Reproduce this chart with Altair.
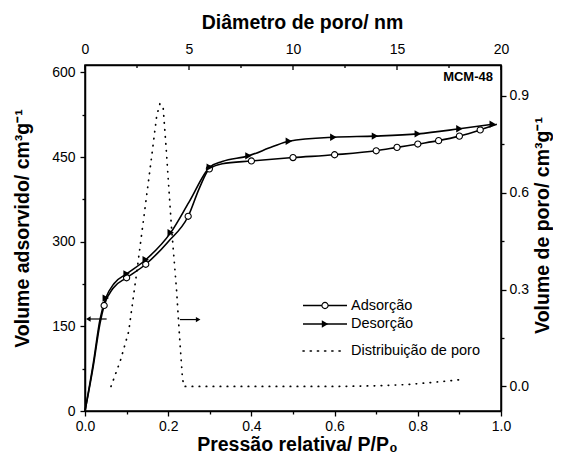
import altair as alt
import pandas as pd

# ---- data ----
# Adsorption branch (P/P0, volume adsorbed cm3/g)
ads_x = [0.0, 0.02, 0.036, 0.046, 0.068, 0.10, 0.146, 0.20, 0.248, 0.275, 0.299, 0.33, 0.40, 0.50, 0.60, 0.70, 0.75, 0.80, 0.85, 0.90, 0.95, 0.99]
ads_y = [0, 80, 155, 187, 218, 236, 260, 300, 345, 395, 429, 438, 443, 449, 454, 461, 467, 473, 479, 487, 498, 508]
ads_mark = [0, 0, 0, 1, 0, 1, 1, 0, 1, 0, 1, 0, 1, 1, 1, 1, 1, 1, 1, 1, 1, 0]

# Desorption branch
des_x = [0.0, 0.02, 0.036, 0.05, 0.07, 0.10, 0.146, 0.206, 0.25, 0.30, 0.33, 0.393, 0.45, 0.49, 0.597, 0.697, 0.80, 0.90, 0.98]
des_y = [0, 85, 162, 200, 226, 243, 268, 316, 370, 432, 442, 452, 468, 478, 485, 487, 491, 500, 508]
des_mark = [0, 0, 0, 1, 0, 1, 1, 1, 0, 1, 0, 1, 0, 1, 1, 1, 1, 1, 1]

# Pore size distribution (diameter nm, pore volume cm3/g)
pd_x = [1.25, 1.7, 2.1, 2.5, 2.9, 3.2, 3.45, 3.6, 3.75, 3.9, 4.15, 4.4, 4.55, 4.68, 4.75, 6, 8, 10, 12, 14, 15.5, 16.8, 18.2]
pd_y = [0.0, 0.08, 0.17, 0.36, 0.56, 0.71, 0.84, 0.875, 0.87, 0.74, 0.50, 0.30, 0.15, 0.03, 0.0, 0.0, 0.0, 0.0, 0.0, 0.002, 0.006, 0.013, 0.022]

# axis tick values
left_ticks = [0, 75, 150, 225, 300, 375, 450, 525, 600]
bottom_ticks = [0.0, 0.1, 0.2, 0.3, 0.4, 0.5, 0.6, 0.7, 0.8, 0.9, 1.0]
right_ticks = [0.0, 0.15, 0.3, 0.45, 0.6, 0.75, 0.9]
top_major = [0, 5, 10, 15, 20]
top_minor = [2.5, 7.5, 12.5, 17.5]

# axis-direction arrows (P/P0, volume)
arrow_left = {"x": [0.008, 0.052], "y": [163, 163]}
arrow_right = {"x": [0.228, 0.272], "y": [162, 162]}

legend_labels = ["Adsorção", "Desorção", "Distribuição de poro"]
sample_label = "MCM-48"

FONT = "Liberation Sans"
W, H = 416, 346

ads = pd.DataFrame({"x": ads_x, "y": ads_y, "m": ads_mark})
des = pd.DataFrame({"x": des_x, "y": des_y, "m": des_mark})
pdd = pd.DataFrame({"d": pd_x, "v": pd_y})

common_axis = dict(labelFont=FONT, labelFontSize=14, labelColor="black", labelFlush=False,
                   labelOverlap=False,
                   titleFont=FONT, titleFontSize=19.5, titleFontWeight="bold", titleColor="black",
                   domainColor="black", domainWidth=1.5, tickColor="black", tickWidth=1.3,
                   grid=False)

X = alt.X("x:Q", scale=alt.Scale(domain=[0, 1], nice=False, zero=False),
          axis=alt.Axis(orient="bottom", values=bottom_ticks,
                        labelExpr="round(datum.value*10) % 2 === 0 ? format(datum.value, '.1f') : ''",
                        tickSize={"condition": {"test": "round(datum.value*10) % 2 === 0", "value": 5}, "value": 3},
                        labelPadding=3, title="Pressão relativa/ P/P₀",
                        titleX=212, titleY=33, titleBaseline="middle", **common_axis))
Y = alt.Y("y:Q", scale=alt.Scale(domain=[0, 613], nice=False),
          axis=alt.Axis(orient="left", values=left_ticks,
                        labelExpr="datum.value % 150 === 0 ? datum.label : ''",
                        tickSize={"condition": {"test": "datum.value % 150 === 0", "value": 5}, "value": 3},
                        labelPadding=5, title="Volume adsorvido/ cm³g⁻¹",
                        titleAngle=270, titleX=-63, titleY=163, titleBaseline="middle", **common_axis))

ads_line = alt.Chart(ads).mark_line(color="black", strokeWidth=1.6, interpolate="monotone").encode(x=X, y=Y)
ads_pts = alt.Chart(ads).transform_filter("datum.m == 1").mark_point(
    shape="circle", filled=True, fill="white", stroke="black", strokeWidth=1.1, size=38, opacity=1).encode(x=X, y=Y)
des_line = alt.Chart(des).mark_line(color="black", strokeWidth=1.6, interpolate="monotone").encode(x=X, y=Y)
des_pts = alt.Chart(des).transform_filter("datum.m == 1").mark_point(
    shape="triangle-right", filled=True, color="black", size=55, opacity=1).encode(x=X, y=Y)

al = pd.DataFrame(arrow_left)
ar = pd.DataFrame(arrow_right)
arrow_l_line = alt.Chart(al).mark_line(color="black", strokeWidth=1.2).encode(x=X, y=Y)
arrow_l_head = alt.Chart(al.iloc[[0]]).mark_point(shape="triangle-left", filled=True, color="black", size=28, opacity=1).encode(x=X, y=Y)
arrow_r_line = alt.Chart(ar).mark_line(color="black", strokeWidth=1.2).encode(x=X, y=Y)
arrow_r_head = alt.Chart(ar.iloc[[1]]).mark_point(shape="triangle-right", filled=True, color="black", size=28, opacity=1).encode(x=X, y=Y)

# legend (pixel placement inside the plot)
lx1, lx2, lxs, ltx = 218, 262, 240, 266
ly = [240.5, 259, 286]
leg = []
leg.append(alt.Chart(pd.DataFrame({"a": [0]})).mark_rule(color="black", strokeWidth=1.6).encode(
    x=alt.value(lx1), x2=alt.value(lx2), y=alt.value(ly[0])))
leg.append(alt.Chart(pd.DataFrame({"a": [0]})).mark_point(shape="circle", filled=True, fill="white", stroke="black",
    strokeWidth=1.1, size=38, opacity=1).encode(x=alt.value(lxs), y=alt.value(ly[0])))
leg.append(alt.Chart(pd.DataFrame({"a": [0]})).mark_rule(color="black", strokeWidth=1.6).encode(
    x=alt.value(lx1), x2=alt.value(lx2), y=alt.value(ly[1])))
leg.append(alt.Chart(pd.DataFrame({"a": [0]})).mark_point(shape="triangle-right", filled=True, color="black",
    size=55, opacity=1).encode(x=alt.value(lxs), y=alt.value(ly[1])))
leg.append(alt.Chart(pd.DataFrame({"a": [0]})).mark_rule(color="black", strokeWidth=1.6, strokeDash=[1.2, 6],
    strokeCap="round").encode(x=alt.value(lx1), x2=alt.value(lx2 - 4), y=alt.value(ly[2])))
for lab, yy in zip(legend_labels, ly):
    leg.append(alt.Chart(pd.DataFrame({"t": [lab]})).mark_text(
        align="left", baseline="middle", font=FONT, fontSize=14.5, color="black").encode(
        x=alt.value(ltx), y=alt.value(yy), text="t:N"))
leg.append(alt.Chart(pd.DataFrame({"t": [sample_label]})).mark_text(
    align="right", baseline="middle", font=FONT, fontSize=13, fontWeight="bold", color="black").encode(
    x=alt.value(408), y=alt.value(12), text="t:N"))

left_group = alt.layer(ads_line, des_line, arrow_l_line, arrow_r_line, arrow_l_head, arrow_r_head,
                       ads_pts, des_pts, *leg)

# right/top group: pore size distribution
X2 = alt.X("d:Q", scale=alt.Scale(domain=[0, 20], nice=False, zero=False),
           axis=alt.Axis(orient="top", values=top_major, ticks=False, tickSize=0, labelPadding=9,
                         title="Diâmetro de poro/ nm", titleX=217, titleY=-43, titleBaseline="middle",
                         **common_axis))
Y2 = alt.Y("v:Q", scale=alt.Scale(domain=[-0.076, 0.996], nice=False, zero=False),
           axis=alt.Axis(orient="right", values=right_ticks,
                         labelExpr="round(datum.value*100) % 30 === 0 ? format(datum.value, '.1f') : ''",
                         tickSize={"condition": {"test": "round(datum.value*100) % 30 === 0", "value": 5}, "value": 3},
                         labelPadding=3, title="Volume de poro/ cm³g⁻¹",
                         titleAngle=270, titleX=41, titleY=160, titleBaseline="middle", **common_axis))

pd_line = alt.Chart(pdd).mark_line(color="black", strokeWidth=1.7, strokeDash=[0.5, 6.5], strokeCap="round").encode(x=X2, y=Y2)
tmaj = alt.Chart(pd.DataFrame({"d": top_major})).mark_rule(color="black", strokeWidth=1.3).encode(
    x=alt.X("d:Q"), y=alt.value(0), y2=alt.value(5))
tmin = alt.Chart(pd.DataFrame({"d": top_minor})).mark_rule(color="black", strokeWidth=1.3).encode(
    x=alt.X("d:Q"), y=alt.value(0), y2=alt.value(3))
right_group = alt.layer(pd_line, tmaj, tmin)

chart = alt.layer(left_group, right_group).resolve_scale(x="independent", y="independent").properties(
    width=W, height=H,
    autosize=alt.AutoSizeParams(type="none"),
    padding={"left": 77, "top": 57, "right": 52, "bottom": 44},
    background="white",
).configure_view(stroke="black", strokeWidth=1.5)

chart.save("out.html", embed_options={"renderer": "svg", "actions": False})
